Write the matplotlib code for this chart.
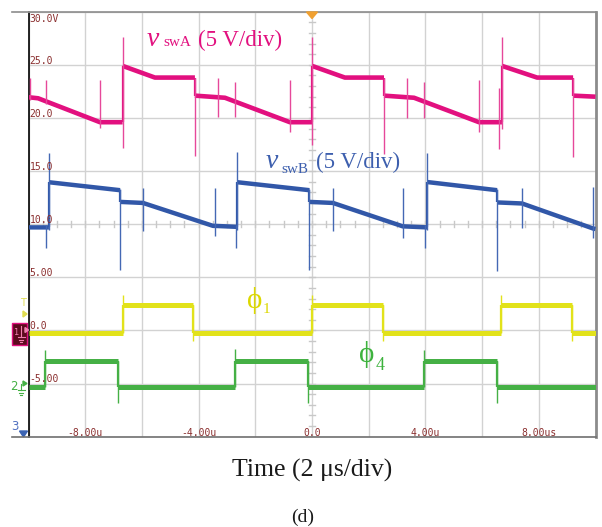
import numpy as np
import matplotlib
matplotlib.use("Agg")
import matplotlib.pyplot as plt
from matplotlib.lines import Line2D
from matplotlib.patches import Polygon, Rectangle

W, H = 602, 527

# ---------------- data (time in us, voltage in V) ----------------
swA_t = [-10.00, -9.66, -7.48, -6.68, -6.68, -5.54, -4.13, -4.13, -3.07, -0.78, 0.00, 0.00,
         1.16, 2.54, 2.54, 3.60, 5.89, 6.70, 6.70, 7.94, 9.21, 9.21, 10.00]
swA_v = [21.95, 21.85, 19.6, 19.6, 24.9, 23.8, 23.8, 22.1, 21.9, 19.6, 19.6, 24.9,
         23.8, 23.8, 22.1, 21.9, 19.6, 19.6, 24.9, 23.8, 23.8, 22.1, 22.0]
swA_spk_t = [-9.93, -9.38, -7.48, -6.68, -4.13, -3.32, -2.72, -0.78, 0.00, 2.54, 3.35, 3.95, 5.89, 6.60, 6.70, 9.21]
swA_spk_lo = [21.7, 21.3, 19.1, 17.2, 16.4, 20.1, 20.1, 18.7, 17.5, 16.6, 20.0, 20.0, 18.7, 17.1, 19.0, 16.3]
swA_spk_hi = [23.8, 23.6, 23.6, 27.6, 23.8, 23.8, 23.4, 23.6, 27.6, 23.8, 23.8, 23.4, 23.6, 22.8, 27.6, 23.8]

swB_t = [-10.00, -9.28, -9.28, -6.77, -6.77, -5.96, -3.50, -2.63, -2.63, -0.09, -0.09, 0.74,
         3.20, 4.06, 4.06, 6.53, 6.53, 7.41, 9.91, 10.00]
swB_v = [9.70, 9.70, 13.95, 13.2, 12.1, 12.0, 9.85, 9.75, 13.95, 13.2, 12.1, 12.0,
         9.80, 9.70, 13.97, 13.2, 12.05, 11.95, 9.60, 9.55]
swB_spk_t = [-9.38, -9.28, -6.77, -5.96, -3.42, -2.68, -2.63, -0.09, 0.74, 3.21, 3.99, 4.06, 6.53, 7.41, 9.91]
swB_spk_lo = [7.8, 9.5, 5.7, 9.4, 8.9, 7.8, 9.5, 5.7, 9.4, 8.7, 7.8, 9.5, 5.6, 9.6, 8.7]
swB_spk_hi = [9.9, 16.7, 13.3, 13.4, 13.4, 9.9, 16.8, 13.3, 13.4, 13.4, 9.9, 16.7, 13.3, 13.4, 13.5]

ph1_t = [-10.0, -6.66, -6.66, -4.19, -4.19, -0.01, -0.01, 2.51, 2.51, 6.67, 6.67, 9.18, 9.18, 10.0]
ph1_v = [-0.2, -0.2, 2.4, 2.4, -0.2, -0.2, 2.4, 2.4, -0.2, -0.2, 2.4, 2.4, -0.2, -0.2]
ph1_spk_t = [-6.66, -4.19, -0.01, 2.51, 6.67, 9.18]
ph1_spk_lo = [-0.2, -1.0, -0.2, -1.0, -0.2, -1.0]
ph1_spk_hi = [3.3, 2.4, 3.3, 2.4, 3.3, 2.4]

ph4_t = [-10.0, -9.42, -9.42, -6.83, -6.83, -2.72, -2.72, -0.13, -0.13, 3.95, 3.95, 6.54, 6.54, 10.0]
ph4_v = [-5.35, -5.35, -2.85, -2.85, -5.35, -5.35, -2.85, -2.85, -5.35, -5.35, -2.85, -2.85, -5.35, -5.35]
ph4_spk_t = [-9.42, -6.83, -2.72, -0.13, 3.95, 6.54]
ph4_spk_lo = [-5.35, -6.8, -5.35, -6.8, -5.35, -6.8]
ph4_spk_hi = [-1.8, -2.85, -1.7, -2.85, -1.8, -2.85]

volt_labels = ["30.0V", "25.0", "20.0", "15.0", "10.0", "5.00", "0.0", "-5.00"]
volt_pos = [30, 25, 20, 15, 10, 5, 0, -5]
time_labels = ["-8.00u", "-4.00u", "0.0", "4.00u", "8.00us"]
time_pos = [-8, -4, 0, 4, 8]

C_A = "#E2107F"
C_B = "#3157A8"
C_1 = "#E2E21A"
C_4 = "#45B045"
C_TXT = "#8A2E2E"

fig = plt.figure(figsize=(W / 100, H / 100), dpi=100)
fig.patch.set_facecolor("white")


def fx(x):
    return x / W


def fy(y):
    return 1 - y / H


L, R, T, B = 28.5, 595.5, 11.7, 436.7
ax = fig.add_axes([fx(L), fy(B), (R - L) / W, (B - T) / H])
ax.set_xlim(-10, 10)
ax.set_ylim(-10, 30)
ax.set_xticks(np.arange(-10, 11, 2))
ax.set_yticks(np.arange(-10, 31, 5))
ax.tick_params(length=0, labelbottom=False, labelleft=False)
ax.grid(True, color="#d2d2d2", lw=1.0)
ax.set_axisbelow(True)
for s in ["top"]:
    ax.spines[s].set_color("#8c8c8c")
    ax.spines[s].set_linewidth(1.2)
ax.spines["right"].set_color("#8c8c8c")
ax.spines["right"].set_linewidth(2.0)
ax.spines["bottom"].set_color("#707070")
ax.spines["bottom"].set_linewidth(1.2)
ax.spines["left"].set_color("black")
ax.spines["left"].set_linewidth(1.2)

# center-line minor ticks
for xt in np.arange(-10, 10.01, 0.5):
    ax.plot([xt, xt], [9.7, 10.3], color="#c8c8c8", lw=1.0, zorder=1)
for yt in np.arange(-10, 30.01, 1.0):
    ax.plot([-0.1, 0.1], [yt, yt], color="#c8c8c8", lw=1.0, zorder=1)


def trace(t, v, color, lw, slo, shi, st, spk_color):
    t = np.asarray(t, float)
    v = np.asarray(v, float)
    xs, ys = [t[0]], [v[0]]
    for i in range(1, len(t)):
        if t[i] == t[i - 1]:
            ax.plot([t[i], t[i]], [v[i - 1], v[i]], color=color, lw=1.6, zorder=3,
                    solid_capstyle="butt")
            xs.append(np.nan)
            ys.append(np.nan)
        xs.append(t[i])
        ys.append(v[i])
    ax.plot(xs, ys, color=color, lw=lw, zorder=3, solid_capstyle="butt")
    ax.vlines(st, slo, shi, color=spk_color, lw=1.0, zorder=3)


trace(swA_t, swA_v, C_A, 3.3, swA_spk_lo, swA_spk_hi, swA_spk_t, "#E6489A")
trace(swB_t, swB_v, C_B, 3.2, swB_spk_lo, swB_spk_hi, swB_spk_t, "#4468B4")
trace(ph1_t, ph1_v, C_1, 3.6, ph1_spk_lo, ph1_spk_hi, ph1_spk_t, C_1)
trace(ph4_t, ph4_v, C_4, 3.6, ph4_spk_lo, ph4_spk_hi, ph4_spk_t, C_4)

# voltage labels
mono = "DejaVu Sans Mono"
for lab, v in zip(volt_labels, volt_pos):
    y = T + (30 - v) * (B - T) / 40.0
    if v == 30:
        fig.text(fx(29.5), fy(13.5), lab, fontsize=7, family=mono, color=C_TXT,
                 ha="left", va="top")
    else:
        fig.text(fx(29.5), fy(y - 1.2), lab, fontsize=7, family=mono, color=C_TXT,
                 ha="left", va="baseline")
for lab, t in zip(time_labels, time_pos):
    x = L + (t + 10) * (R - L) / 20.0
    fig.text(fx(x), fy(435.5), lab, fontsize=7, family=mono, color=C_TXT,
             ha="center", va="baseline")

# frame extensions to the left
fig.add_artist(Line2D([fx(12), fx(L)], [fy(T), fy(T)], color="#8c8c8c", lw=1.2))
fig.add_artist(Line2D([fx(12), fx(L)], [fy(B), fy(B)], color="#707070", lw=1.2))

# trigger position marker
fig.add_artist(Polygon([[fx(306.5), fy(12)], [fx(317.5), fy(12)], [fx(312), fy(18.5)]],
                       closed=True, color="#F0A030", transform=fig.transFigure))

# channel markers
fig.text(fx(22.5), fy(306), "T", fontsize=7, color="#E0DC50", ha="center", va="baseline")
fig.add_artist(Polygon([[fx(23), fy(311)], [fx(23), fy(317)], [fx(27), fy(314)]],
                       closed=True, color="#E0DC50", transform=fig.transFigure))
fig.add_artist(Rectangle((fx(11.7), fy(345)), (27 - 11.7) / W, 22 / H,
                         facecolor="#5C0A1E", edgecolor=C_A, lw=1.0,
                         transform=fig.transFigure))
fig.text(fx(15.5), fy(335), "1", fontsize=6, color="#F080B0", ha="center", va="baseline")
for (x0, x1, yy) in [(17.5, 24.5, 337), (18.8, 23.2, 339.5), (20.2, 21.8, 342)]:
    fig.add_artist(Line2D([fx(x0), fx(x1)], [fy(yy), fy(yy)], color="#F080B0", lw=0.8))
fig.add_artist(Line2D([fx(21), fx(21)], [fy(326), fy(337)], color="#F080B0", lw=0.8))
fig.add_artist(Polygon([[fx(25), fy(327.5)], [fx(25), fy(332.5)], [fx(28.5), fy(330)]],
                       closed=True, color="#F080B0", transform=fig.transFigure))

fig.text(fx(14.2), fy(390.5), "2", fontsize=8.5, color=C_4, ha="center", va="baseline")
fig.add_artist(Line2D([fx(21), fx(21)], [fy(384), fy(390)], color=C_4, lw=0.8))
for (x0, x1, yy) in [(17.5, 24.5, 390), (18.8, 23.2, 392.5), (20.2, 21.8, 395)]:
    fig.add_artist(Line2D([fx(x0), fx(x1)], [fy(yy), fy(yy)], color=C_4, lw=0.8))
fig.add_artist(Polygon([[fx(23), fy(381)], [fx(23), fy(386)], [fx(27), fy(383.5)]],
                       closed=True, color=C_4, transform=fig.transFigure))

fig.text(fx(15), fy(430.5), "3", fontsize=8.5, color="#5070C0", ha="center", va="baseline")
fig.add_artist(Polygon([[fx(19.5), fy(431)], [fx(27.5), fy(431)], [fx(23.5), fy(437)]],
                       closed=True, color="#3C64B4", transform=fig.transFigure))

# waveform labels
serif = ["Liberation Serif", "DejaVu Serif"]
fig.text(fx(147), fy(46), "v", fontsize=20, style="italic", family=serif, color=C_A,
         va="baseline")
fig.text(fx(163), fy(46.5), "swA", fontsize=11, family=serif, color=C_A, va="baseline")
fig.text(fx(198), fy(46.5), "(5 V/div)", fontsize=16.5, family=serif, color=C_A,
         va="baseline")

fig.text(fx(266), fy(168), "v", fontsize=20, style="italic", family=serif, color="#3D5FAE",
         va="baseline")
fig.text(fx(281), fy(172.5), "swB", fontsize=11, family=serif, color="#3D5FAE",
         va="baseline")
fig.text(fx(316), fy(168.5), "(5 V/div)", fontsize=16.5, family=serif, color="#3D5FAE",
         va="baseline")

fig.text(fx(247), fy(308.5), "\u03d5", fontsize=21, family=serif, color="#DCD800",
         va="baseline")
fig.text(fx(263), fy(313), "1", fontsize=11, family=serif, color="#DCD800", va="baseline")
fig.text(fx(359), fy(362.5), "\u03d5", fontsize=21, family=serif, color="#3DB23D",
         va="baseline")
fig.text(fx(376), fy(370), "4", fontsize=13, family=serif, color="#3DB23D", va="baseline")

fig.text(fx(312), fy(476.5), "Time (2 \u03bcs/div)", fontsize=18.5, family=serif,
         color="#1a1a1a", ha="center", va="baseline")
fig.text(fx(303), fy(521.5), "(d)", fontsize=14, family=serif, color="#1a1a1a",
         ha="center", va="baseline")

fig.savefig("out.png", dpi=100, facecolor="white")
